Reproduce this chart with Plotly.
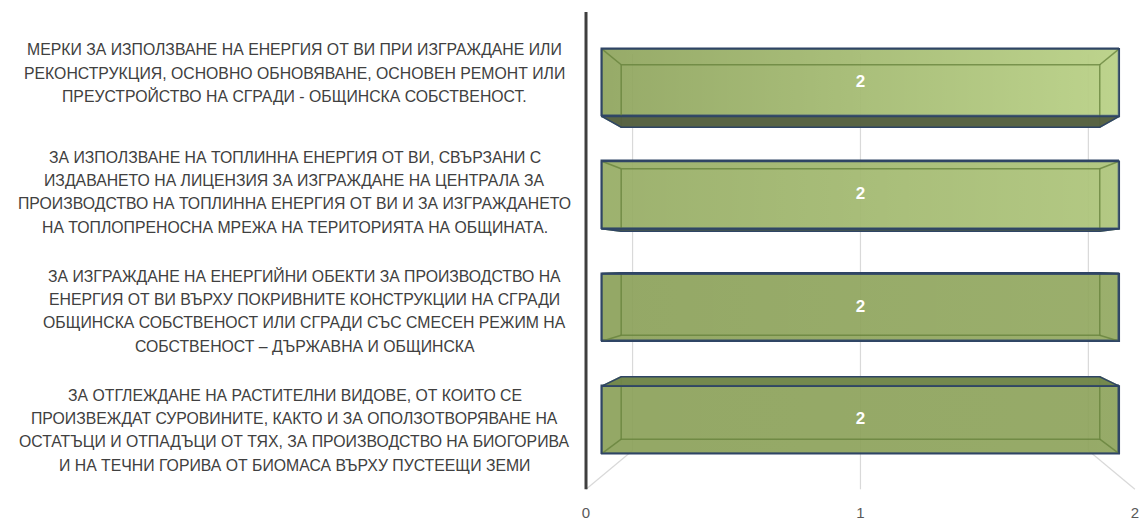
import plotly.graph_objects as go

# ---------------- data ----------------
categories = [
    "МЕРКИ ЗА ИЗПОЛЗВАНЕ НА ЕНЕРГИЯ ОТ ВИ ПРИ ИЗГРАЖДАНЕ ИЛИ\nРЕКОНСТРУКЦИЯ, ОСНОВНО ОБНОВЯВАНЕ, ОСНОВЕН РЕМОНТ ИЛИ\nПРЕУСТРОЙСТВО НА СГРАДИ - ОБЩИНСКА СОБСТВЕНОСТ.",
    "ЗА ИЗПОЛЗВАНЕ НА ТОПЛИННА ЕНЕРГИЯ ОТ ВИ, СВЪРЗАНИ С\nИЗДАВАНЕТО НА ЛИЦЕНЗИЯ ЗА ИЗГРАЖДАНЕ НА ЦЕНТРАЛА ЗА\nПРОИЗВОДСТВО НА ТОПЛИННА ЕНЕРГИЯ ОТ ВИ И ЗА ИЗГРАЖДАНЕТО\nНА ТОПЛОПРЕНОСНА МРЕЖА НА ТЕРИТОРИЯТА НА ОБЩИНАТА.",
    "ЗА ИЗГРАЖДАНЕ НА ЕНЕРГИЙНИ ОБЕКТИ ЗА ПРОИЗВОДСТВО НА\nЕНЕРГИЯ ОТ ВИ ВЪРХУ ПОКРИВНИТЕ КОНСТРУКЦИИ НА СГРАДИ\nОБЩИНСКА СОБСТВЕНОСТ ИЛИ СГРАДИ СЪС СМЕСЕН РЕЖИМ НА\nСОБСТВЕНОСТ – ДЪРЖАВНА И ОБЩИНСКА",
    "ЗА ОТГЛЕЖДАНЕ НА РАСТИТЕЛНИ ВИДОВЕ, ОТ КОИТО СЕ\nПРОИЗВЕЖДАТ СУРОВИНИТЕ, КАКТО И ЗА ОПОЛЗОТВОРЯВАНЕ НА\nОСТАТЪЦИ И ОТПАДЪЦИ ОТ ТЯХ, ЗА ПРОИЗВОДСТВО НА БИОГОРИВА\nИ НА ТЕЧНИ ГОРИВА ОТ БИОМАСА ВЪРХУ ПУСТЕЕЩИ ЗЕМИ",
]
values = [2, 2, 2, 2]
value_ticks = [0, 1, 2]
value_tick_text = ["0", "1", "2"]

# ---------------- style / geometry ----------------
W, H = 1144, 521
Y_FIX = 1.0348               # vertical calibration
PX0, PXU = 602.0, 260.5      # pixel of value 0 on bar front plane, px per unit
PY0, PYU = 26.5 * Y_FIX, 113.0 * Y_FIX   # pixel of category -0.5, px per category
VX, VY = 1.0, 1.584          # vanishing point (data units)
S_BACK, S_WALL, S_FRONT = 0.925, 0.881, 1.061
S_LABEL = 1.059              # plane of the category labels
BAR_W = 0.6
Y_TOP, Y_BOT = -0.5, 3.5
NAVY = "#2f4565"
GRID = "#d9d9d9"
TEXT = "#404040"
LABEL_FONT = "Liberation Sans, Arial, sans-serif"
LABEL_SIZE = 15.8
LINE_H = 23.3
LABEL_CX = 293               # px centre of category labels
LABEL_DX = [0, 0, 10, 0]     # small horizontal offsets of label blocks (px)
LABEL_DY = 1                 # downward nudge of label blocks (px)
grad_alpha = [(0.03, 0.50), (0.11, 0.38), (0.0, 0.08), (0.0, 0.03)]


def px_to_x(p):
    return (p - PX0) / PXU


def px_to_y(p):
    return (p - PY0) / PYU - 0.5


def proj(x, y, s):
    return VX + s * (x - VX), VY + s * (y - VY)


X_DOM = [0.5, 1.0]
x_range = [px_to_x(X_DOM[0] * W), px_to_x(X_DOM[1] * W)]
y_range = [px_to_y(H), px_to_y(0)]

fig = go.Figure()
y_pos = list(range(len(values)))

# main bars (front faces)
fig.add_trace(go.Bar(
    x=values, y=y_pos, orientation="h", width=BAR_W, base=0,
    marker=dict(color="rgba(136,158,85,0.9)", line=dict(color=NAVY, width=1.5)),
    hoverinfo="skip", showlegend=False,
))

for i, v in enumerate(values):
    x0, x1 = 0, v
    yt, yb = i - BAR_W / 2, i + BAR_W / 2
    F = {"tl": (x0, yt), "tr": (x1, yt), "br": (x1, yb), "bl": (x0, yb)}
    B = {k: proj(p[0], p[1], S_BACK) for k, p in F.items()}
    a0, a1 = grad_alpha[i]
    # lighting gradient on front face
    fig.add_trace(go.Scatter(
        x=[x0, x1, x1, x0, x0], y=[yt, yt, yb, yb, yt], mode="lines",
        fill="toself", line=dict(width=0),
        fillgradient=dict(type="horizontal", colorscale=[
            [0, f"rgba(230,255,180,{a0})"], [1, f"rgba(230,255,180,{a1})"]]),
        hoverinfo="skip", showlegend=False,
    ))
    # back edges seen through the translucent front face
    ex, ey = [], []
    for k in ["tl", "tr", "br", "bl", "tl"]:
        ex.append(B[k][0]); ey.append(B[k][1])
    ex.append(None); ey.append(None)
    for k in ["tl", "tr", "br", "bl"]:
        ex += [F[k][0], B[k][0], None]
        ey += [F[k][1], B[k][1], None]
    fig.add_trace(go.Scatter(
        x=ex, y=ey, mode="lines", line=dict(color="rgba(100,128,58,0.75)", width=1.5),
        hoverinfo="skip", showlegend=False,
    ))
    # visible top / bottom face
    if yb < VY:
        pts = [F["bl"], F["br"], B["br"], B["bl"], F["bl"]]
        fc = "rgba(84,95,62,0.97)"
    else:
        pts = [F["tl"], F["tr"], B["tr"], B["tl"], F["tl"]]
        fc = "rgba(112,133,72,0.97)"
    fig.add_trace(go.Scatter(
        x=[p[0] for p in pts], y=[p[1] for p in pts], mode="lines", fill="toself",
        fillcolor=fc, line=dict(color=NAVY, width=1.5),
        hoverinfo="skip", showlegend=False,
    ))
    # front outline
    fig.add_trace(go.Scatter(
        x=[x0, x1, x1, x0, x0], y=[yt, yt, yb, yb, yt], mode="lines",
        line=dict(color=NAVY, width=1.8), hoverinfo="skip", showlegend=False,
    ))

# value labels
fig.add_trace(go.Scatter(
    x=[v / 2 for v in values], y=y_pos, mode="text", text=[str(v) for v in values],
    textfont=dict(color="white", size=17, family="Liberation Sans", weight="bold"),
    hoverinfo="skip", showlegend=False,
))

# invisible trace to realise the front-plane tick axis
fig.add_trace(go.Scatter(
    x=value_ticks, y=[y_range[0] + 5] * len(value_ticks), xaxis="x2", yaxis="y",
    mode="markers", marker=dict(opacity=0), hoverinfo="skip", showlegend=False,
))

# wall gridlines, floor lines and vertical axis line
shapes = []
for t in value_ticks:
    xt, ytp = proj(t, Y_TOP, S_WALL)
    xb, ybp = proj(t, Y_BOT, S_WALL)
    xf, yf = proj(t, Y_BOT, S_FRONT)
    shapes.append(dict(type="line", xref="x", yref="y", x0=xt, y0=ytp, x1=xb, y1=ybp,
                       line=dict(color=GRID, width=1.2), layer="below"))
    shapes.append(dict(type="line", xref="x", yref="y", x0=xb, y0=ybp, x1=xf, y1=yf,
                       line=dict(color=GRID, width=1.2), layer="below"))
ax0, ay0 = proj(0, Y_TOP, S_FRONT)
ax1, ay1 = proj(0, Y_BOT, S_FRONT)
shapes.append(dict(type="line", xref="x", yref="y", x0=ax0, y0=ay0, x1=ax1, y1=ay1,
                   line=dict(color="#3f3f3f", width=3), layer="above"))

# category labels (front plane), one annotation per wrapped line
annotations = []
for i, c in enumerate(categories):
    _, ly = proj(0, i, S_LABEL)
    lines = c.split("\n")
    n = len(lines)
    for j, line in enumerate(lines):
        annotations.append(dict(
            x=(LABEL_CX + LABEL_DX[i]) / W, xref="paper", y=ly, yref="y",
            xanchor="center", yanchor="middle",
            yshift=-(j - (n - 1) / 2) * LINE_H - LABEL_DY,
            text=line, showarrow=False, align="center",
            font=dict(family=LABEL_FONT, size=LABEL_SIZE, color=TEXT),
        ))

# front-plane tick axis geometry
fx0, fy_bot = proj(0, Y_BOT, S_FRONT)
fx2, _ = proj(value_ticks[-1], Y_BOT, S_FRONT)
p_left, p_right = PX0 + PXU * fx0, PX0 + PXU * fx2
dom2 = [p_left / W, min(1.0, p_right / W)]
x2_max = value_ticks[-1] * (dom2[1] * W - p_left) / (p_right - p_left)
pos2 = max(0.0, 1 - (PY0 + PYU * (fy_bot + 0.5)) / H)

fig.update_layout(
    width=W, height=H, margin=dict(l=0, r=0, t=0, b=0),
    paper_bgcolor="white", plot_bgcolor="rgba(0,0,0,0)", showlegend=False,
    xaxis=dict(domain=X_DOM, range=x_range, showgrid=False, zeroline=False,
               showticklabels=False, showline=False, fixedrange=True),
    xaxis2=dict(domain=dom2, range=[0, x2_max], anchor="free", position=pos2,
                tickvals=value_ticks, ticktext=value_tick_text, showgrid=False,
                zeroline=False, showline=False, ticks="", ticklabelstandoff=13,
                fixedrange=True,
                tickfont=dict(family="Liberation Sans", size=15, color="#595959")),
    yaxis=dict(domain=[0, 1], range=y_range, showgrid=False, zeroline=False,
               showticklabels=False, showline=False, fixedrange=True),
    shapes=shapes, annotations=annotations, bargap=0,
)

fig.write_html("out.html", config={"displayModeBar": False},
               post_script="document.body.style.margin='0';document.body.style.padding='0';")
